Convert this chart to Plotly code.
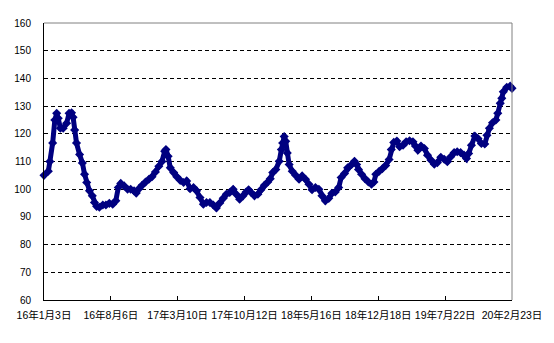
import pandas as pd
import plotly.graph_objects as go

start_date = "2016-01-03"
day_offsets = [0, 14, 19, 28, 35, 41, 46, 53, 62, 73, 81, 89, 94, 99, 105, 115, 124, 131, 138, 147,
               156, 163, 170, 179, 190, 200, 211, 222, 232, 240, 248, 259, 270, 280, 291, 298, 307, 317, 328, 339,
               349, 360, 371, 381, 390, 394, 401, 408, 419, 429, 440, 451, 461, 472, 483, 493, 504, 515, 525, 536,
               547, 557, 568, 579, 589, 600, 611, 621, 632, 643, 653, 661, 669, 680, 691, 701, 712, 723, 731, 739,
               749, 760, 767, 771, 776, 781, 786, 792, 802, 813, 824, 834, 845, 856, 866, 877, 888, 898, 909, 920,
               930, 941, 952, 960, 971, 981, 994, 1003, 1010, 1016, 1026, 1037, 1048, 1058, 1066, 1072, 1083, 1093, 1104, 1115,
               1122, 1130, 1140, 1149, 1160, 1170, 1181, 1192, 1200, 1208, 1218, 1229, 1239, 1250, 1261, 1271, 1282, 1293, 1303, 1314,
               1325, 1335, 1346, 1357, 1365, 1372, 1381, 1392, 1402, 1413, 1424, 1431, 1439, 1449, 1460, 1466, 1474, 1479, 1484, 1495,
               1506, 1512]
values = [105.0, 106.5, 110.0, 116.7, 125.0, 127.4, 125.6, 122.0, 122.0, 123.8, 127.4, 127.6, 126.0, 121.4, 116.7, 112.5, 109.5, 105.4, 102.4, 99.4,
          97.6, 95.2, 93.8, 93.5, 94.3, 94.3, 94.9, 94.6, 95.8, 100.6, 102.1, 101.2, 100.0, 100.0, 99.4, 98.6, 100.2, 101.4, 102.6, 103.6,
          104.5, 106.2, 108.3, 110.0, 113.7, 114.3, 111.9, 107.7, 106.0, 104.5, 103.2, 102.4, 103.0, 100.2, 100.6, 99.4, 97.0, 94.6, 95.2, 95.2,
          94.3, 93.2, 95.0, 96.7, 98.2, 98.8, 100.0, 98.2, 96.4, 97.6, 99.0, 99.8, 98.8, 97.6, 98.2, 99.8, 101.4, 102.6, 103.8, 106.0,
          107.1, 110.1, 114.3, 116.7, 119.0, 117.3, 113.1, 108.9, 106.5, 105.0, 103.6, 104.8, 103.6, 101.8, 99.8, 100.6, 100.0, 97.6, 95.8, 96.7,
          98.5, 99.0, 100.6, 104.2, 105.7, 107.7, 108.9, 110.1, 108.9, 107.1, 105.4, 103.8, 102.6, 101.8, 102.6, 105.4, 106.5, 107.4, 108.6, 110.7,
          114.3, 116.9, 117.4, 115.3, 115.9, 117.1, 117.5, 117.1, 115.6, 114.1, 115.6, 114.7, 112.3, 110.5, 109.0, 109.6, 111.5, 110.8, 109.9, 111.7,
          113.2, 113.5, 113.2, 112.3, 111.1, 112.9, 115.9, 119.2, 118.3, 116.5, 116.3, 119.5, 122.0, 124.0, 125.0, 127.4, 131.0, 132.8, 135.2, 136.8,
          137.2, 136.4]

tick_dates = ["2016-01-03", "2016-08-06", "2017-03-10", "2017-10-12", "2018-05-16", "2018-12-18", "2019-07-22", "2020-02-23"]
tick_labels = ["16年1月3日", "16年8月6日", "17年3月10日", "17年10月12日", "18年5月16日", "18年12月18日", "19年7月22日", "20年2月23日"]

dates = pd.Timestamp(start_date) + pd.to_timedelta(day_offsets, unit="D")

FONT = "Liberation Sans, Arial, Noto Sans CJK JP, sans-serif"

fig = go.Figure()
fig.add_trace(go.Scatter(
    x=dates, y=values, mode="lines+markers",
    line=dict(color="#000080", width=5),
    marker=dict(symbol="diamond", size=7, color="#000080"),
    cliponaxis=False, showlegend=False,
))

fig.update_layout(
    width=554, height=343,
    margin=dict(l=44, r=37, t=23, b=43),
    paper_bgcolor="white", plot_bgcolor="white",
    font=dict(family=FONT, size=10, color="black"),
    xaxis=dict(
        type="date",
        range=[tick_dates[0], tick_dates[-1]],
        tickvals=tick_dates, ticktext=tick_labels,
        showgrid=False, zeroline=False,
        showline=True, linecolor="black", linewidth=1,
        ticks="inside", ticklen=4, tickcolor="black",
        ticklabelstandoff=5,
        tickangle=0, tickfont=dict(size=10.5, family=FONT),
    ),
    yaxis=dict(
        range=[60, 160], dtick=10, tick0=60,
        showgrid=True, gridcolor="black", gridwidth=1, griddash="4px,3px",
        zeroline=False, showline=True, linecolor="black", linewidth=1,
        ticks="", ticklabelstandoff=10,
        tickfont=dict(size=10, family=FONT),
    ),
    shapes=[
        dict(type="line", xref="paper", yref="paper", x0=0, x1=1, y0=1, y1=1,
             line=dict(color="#808080", width=1), layer="above"),
        dict(type="line", xref="paper", yref="paper", x0=1, x1=1, y0=0, y1=1,
             line=dict(color="#808080", width=1), layer="above"),
    ],
)

fig.write_html("out.html")
